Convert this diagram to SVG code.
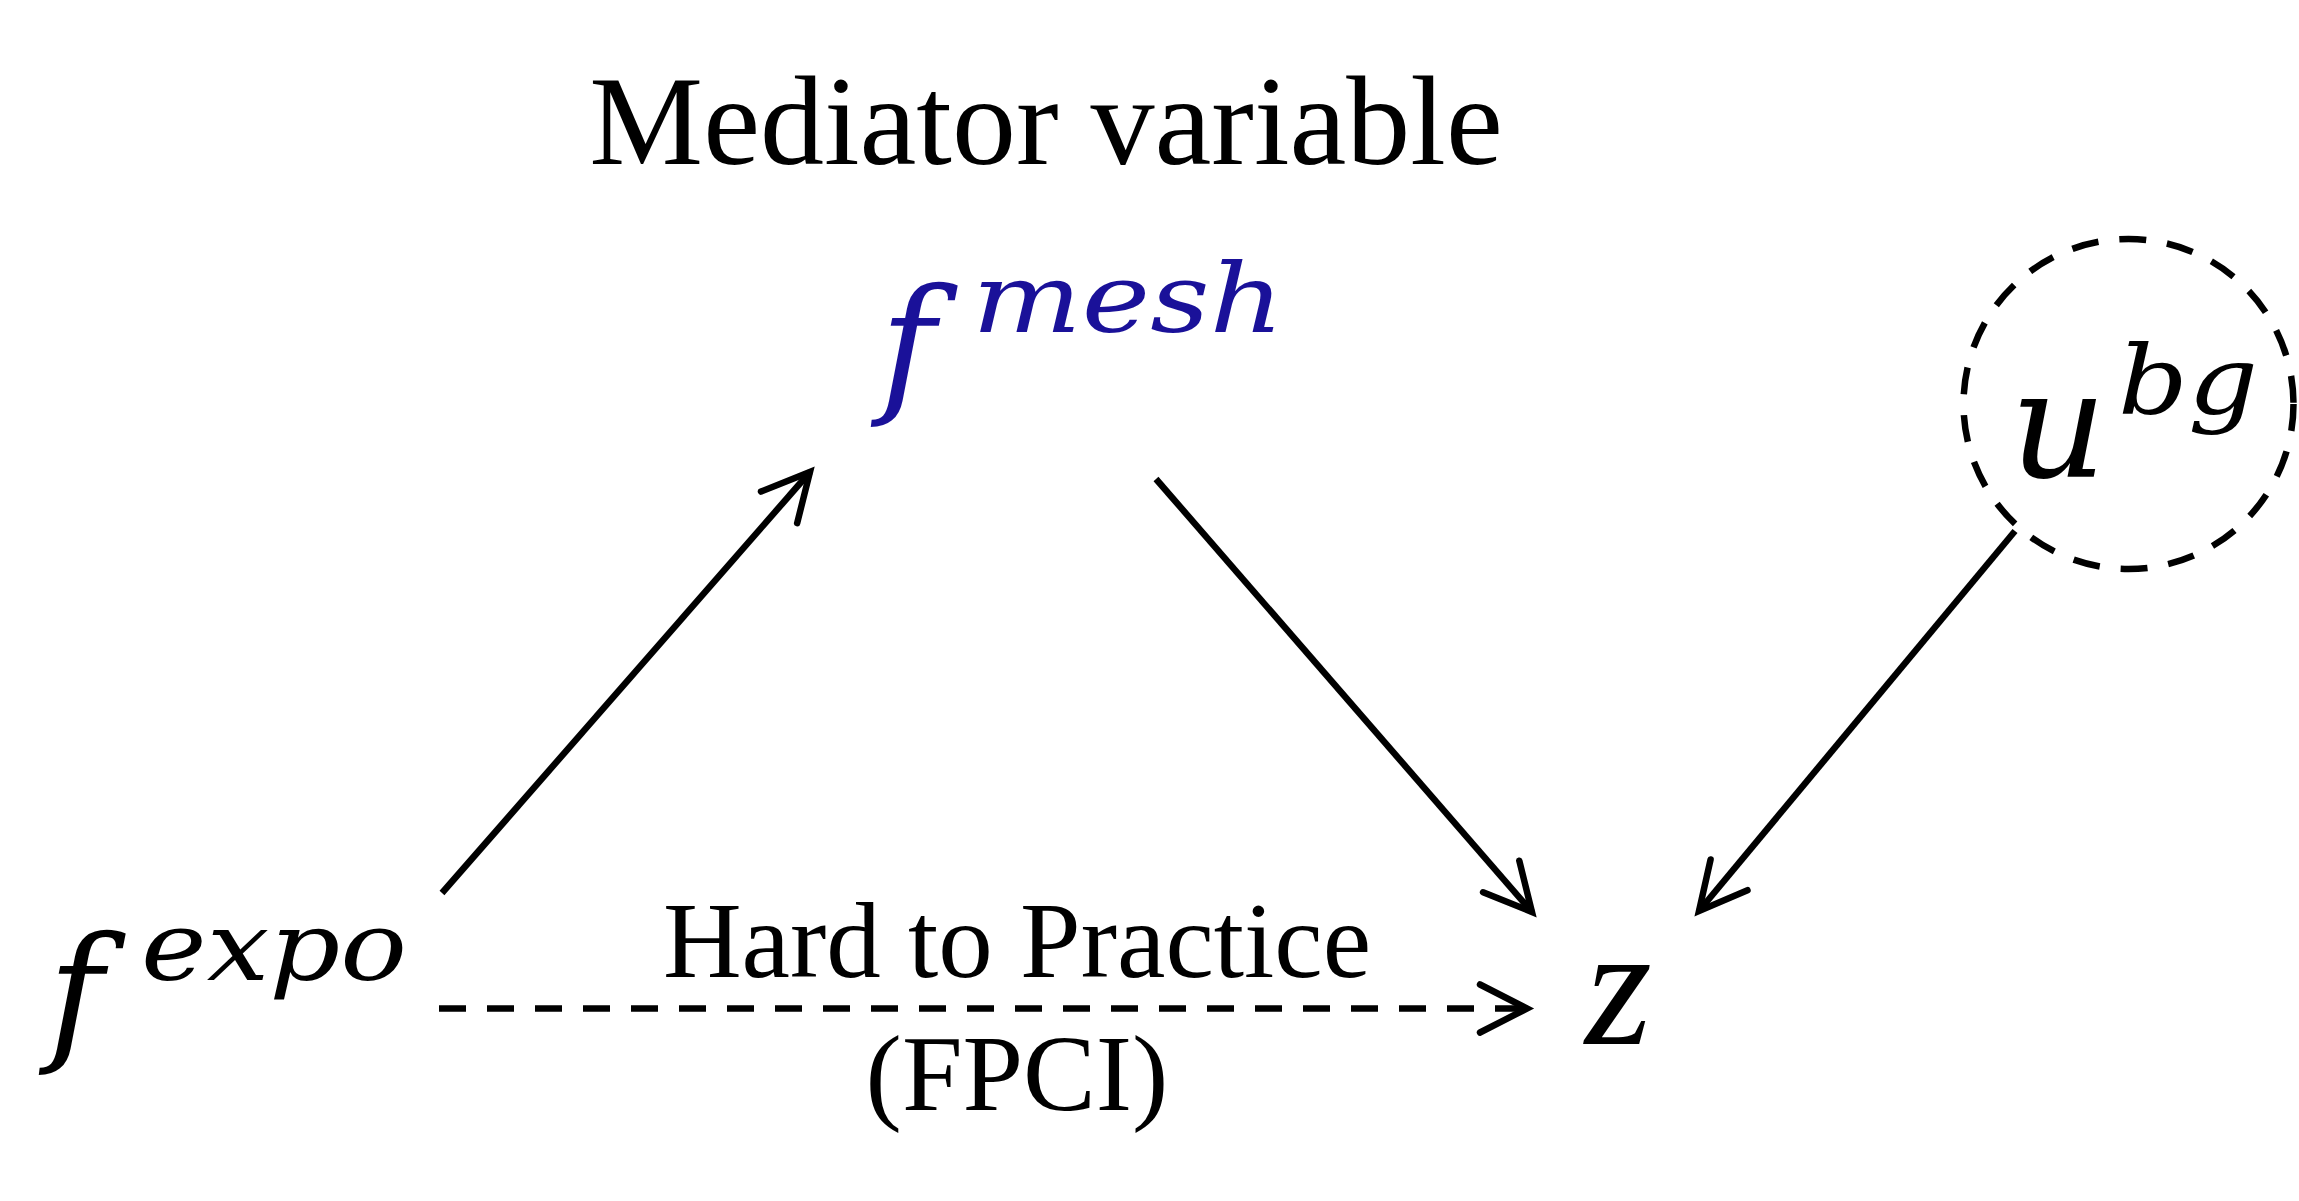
<svg xmlns="http://www.w3.org/2000/svg" width="2299" height="1201" viewBox="0 0 2299 1201">
<style>
.title{font-family:"Liberation Serif","Times New Roman",serif;fill:#000}
.math{font-family:"DejaVu Serif",serif;font-style:italic}
.mathz{font-family:"Liberation Serif","Times New Roman",serif;font-style:italic}
.edge{stroke:#000;stroke-width:6.5;fill:none}
.dash{stroke-dasharray:27 21}
</style>
<defs>
<marker id="arrow" markerUnits="userSpaceOnUse" orient="auto" refX="0" refY="0" markerWidth="120" markerHeight="120" viewBox="-60 -60 120 120" overflow="visible">
<path d="M -47 -24 L 0 0 L -47 24" fill="none" stroke="#000" stroke-width="6.5" stroke-linecap="round" stroke-linejoin="miter" stroke-dasharray="none"/>
</marker>
</defs>
<rect width="2299" height="1201" fill="#fff"/>
<g id="label-mediator">
<text class="title" x="1046" y="164" font-size="128" text-anchor="middle">Mediator variable</text>
</g>
<g id="node-fmesh" fill="#1a1199">
<text class="math" x="880" y="396" font-size="150">f</text>
<text class="math" x="972" y="332" font-size="95" textLength="312" lengthAdjust="spacingAndGlyphs">mesh</text>
</g>
<g id="node-fexpo" fill="#000">
<text class="math" x="48" y="1044" font-size="150">f</text>
<text class="math" x="141" y="980" font-size="95" textLength="266" lengthAdjust="spacingAndGlyphs">expo</text>
</g>
<g id="node-z" fill="#000">
<text class="mathz" x="1585" y="1044" font-size="172">z</text>
</g>
<g id="node-ubg" fill="#000">
<circle cx="2128.5" cy="404" r="165" class="edge dash"/>
<text class="math" x="2010" y="477" font-size="150">u</text>
<text class="math" x="2118" y="414" font-size="95" textLength="140" lengthAdjust="spacingAndGlyphs">bg</text>
</g>
<g id="connectors">
<line class="edge" x1="442" y1="893" x2="810" y2="472" marker-end="url(#arrow)"/>
<line class="edge" x1="1156" y1="479" x2="1532" y2="912" marker-end="url(#arrow)"/>
<line class="edge" x1="2015" y1="531" x2="1699" y2="911" marker-end="url(#arrow)"/>
<line class="edge dash" x1="439" y1="1008.5" x2="1527" y2="1008.5" marker-end="url(#arrow)"/>
</g>
<g id="edge-labels">
<text class="title" x="1017" y="977" font-size="109" text-anchor="middle">Hard to Practice</text>
<text class="title" x="1017" y="1110" font-size="109" text-anchor="middle">(FPCI)</text>
</g>
</svg>
